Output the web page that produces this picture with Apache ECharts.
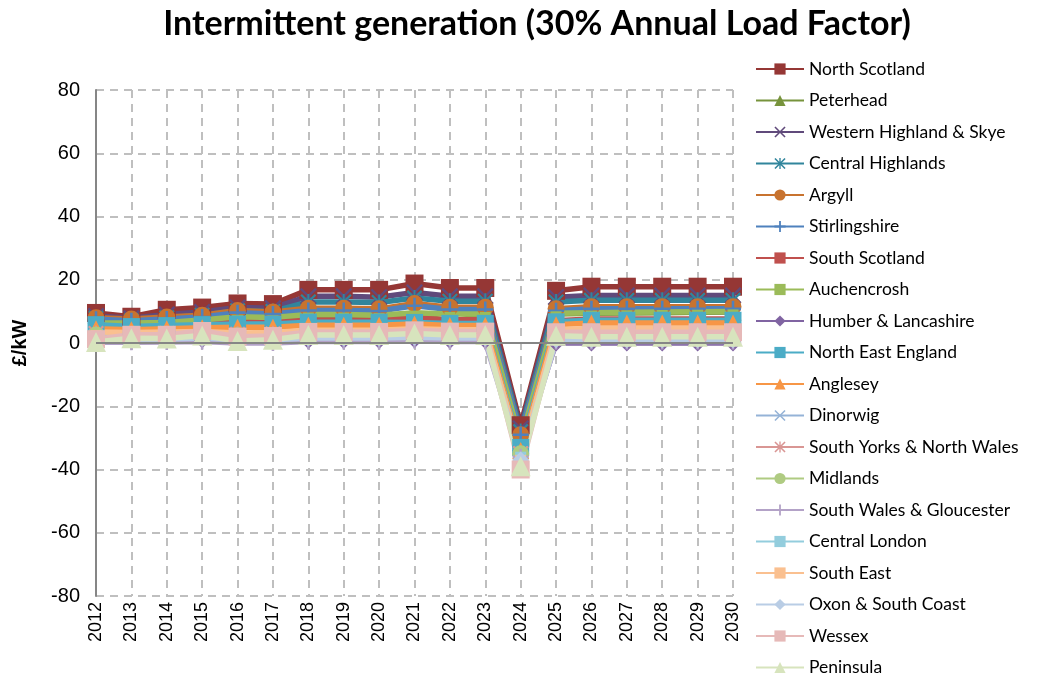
<!DOCTYPE html>
<html>
<head>
<meta charset="utf-8">
<script src="https://cdn.jsdelivr.net/npm/echarts@6/dist/echarts.min.js"></script>
<style>
  html, body { margin: 0; padding: 0; background: #ffffff; }
  #chart { width: 1042px; height: 680px; }
</style>
</head>
<body>
<div id="chart"></div>
<script>
// Charging years
const years = ['2012','2013','2014','2015','2016','2017','2018','2019','2020','2021',
               '2022','2023','2024','2025','2026','2027','2028','2029','2030'];

// Tariff by zone, £/kW
const northScotland      = [9.5, 8.3, 10.5, 11.2, 12.5, 12.3, 16.8, 16.8, 16.8, 18.8, 17.4, 17.4, -26, 16.5, 17.8, 17.8, 17.8, 17.8, 17.8];
const peterhead          = [6.0, 6.0, 6.2, 7.0, 7.8, 7.6, 8.5, 8.5, 8.3, 9.0, 6.8, 8.6, -30, 9.2, 9.4, 9.5, 9.6, 9.7, 9.8];
const westernHighland    = [8.5, 7.8, 9.0, 9.8, 11.2, 11.0, 14.8, 14.8, 14.5, 16.0, 14.8, 14.8, -27, 14.5, 15.0, 15.0, 15.0, 15.0, 15.0];
const centralHighlands   = [7.8, 7.0, 8.0, 8.8, 10.2, 10.0, 13.0, 13.0, 12.8, 14.2, 13.2, 13.2, -28, 13.0, 13.5, 13.5, 13.5, 13.5, 13.5];
const argyll             = [8.0, 7.6, 8.2, 8.8, 10.3, 9.8, 11.0, 11.0, 10.8, 12.5, 11.3, 11.3, -29, 10.8, 11.5, 11.5, 11.5, 11.5, 11.5];
const stirlingshire      = [7.5, 7.0, 7.6, 8.2, 9.6, 9.2, 10.3, 10.3, 10.1, 11.8, 10.6, 10.6, -29, 10.2, 10.8, 10.8, 10.8, 10.8, 10.8];
const southScotland      = [5.5, 5.3, 5.6, 6.0, 6.8, 6.6, 7.3, 7.3, 7.2, 7.9, 7.4, 7.4, -31, 7.0, 7.6, 7.6, 7.6, 7.6, 7.6];
const auchencrosh        = [6.3, 6.3, 6.5, 7.3, 8.3, 8.1, 9.0, 9.0, 8.8, 9.6, 9.2, 9.2, -31, 9.4, 9.6, 9.7, 9.8, 9.9, 10.0];
const humberLancashire   = [0.8, 0.8, 1.0, 1.0, 0.5, 0.6, 0.8, 0.8, 0.8, 1.0, 0.8, 0.8, -34, 0.0, 0.0, 0.0, 0.0, 0.0, 0.0];
const northEastEngland   = [5.8, 5.2, 5.5, 5.8, 6.0, 6.0, 6.6, 6.6, 6.6, 6.5, 6.2, 6.2, -33, 6.7, 7.2, 7.2, 7.2, 7.2, 7.2];
const anglesey           = [4.5, 4.2, 4.5, 4.8, 5.0, 5.0, 5.6, 5.6, 5.6, 6.0, 5.5, 5.5, -34, 5.8, 6.3, 6.3, 6.3, 6.3, 6.3];
const dinorwig           = [2.0, 2.0, 2.2, 2.5, 1.8, 1.8, 2.4, 2.4, 2.4, 2.7, 2.4, 2.4, -35, 2.0, 2.2, 2.2, 2.2, 2.2, 2.2];
const southYorksNWales   = [3.0, 2.8, 3.0, 3.3, 2.8, 2.9, 3.5, 3.5, 3.5, 3.8, 3.5, 3.5, -35, 3.5, 3.7, 3.7, 3.7, 3.7, 3.7];
const midlands           = [2.5, 2.5, 2.7, 3.0, 2.3, 2.4, 3.0, 3.0, 3.0, 3.4, 3.1, 3.1, -35, 3.0, 3.2, 3.2, 3.2, 3.2, 3.2];
const southWalesGlouc    = [0.2, 0.2, 0.3, 0.5, 0.0, 0.0, 0.5, 0.5, 0.5, 0.8, 0.5, 0.5, -36, 0.5, 0.5, 0.5, 0.5, 0.5, 0.5];
const centralLondon      = [3.0, 2.8, 3.0, 3.2, 2.5, 2.6, 3.2, 3.2, 3.2, 3.6, 3.3, 3.3, -35, 3.0, 3.0, 3.0, 3.0, 3.0, 3.0];
const southEast          = [3.5, 3.3, 3.5, 3.6, 3.2, 3.3, 4.0, 4.0, 4.0, 4.5, 4.2, 4.2, -36, 4.3, 4.6, 4.6, 4.6, 4.6, 4.6];
const oxonSouthCoast     = [1.0, 1.2, 1.3, 1.6, 1.0, 1.0, 1.6, 1.6, 1.6, 1.8, 1.6, 1.6, -37, 1.0, 1.0, 1.0, 1.0, 1.0, 1.0];
const wessex             = [1.2, 2.6, 2.6, 3.8, 2.0, 2.2, 3.5, 3.5, 3.5, 4.0, 3.6, 3.6, -40, 3.4, 3.4, 3.4, 3.4, 3.4, 3.4];
const peninsula          = [0.3, 1.5, 1.4, 2.4, 0.6, 1.0, 2.5, 2.5, 2.5, 3.0, 2.5, 2.5, -39, 2.3, 2.0, 2.0, 2.0, 2.0, 2.0];

const yTicks = { min: -80, max: 80, step: 20 };

// Marker shapes
const SYM_X = 'path://M0,1 L1,0 L5,4 L9,0 L10,1 L6,5 L10,9 L9,10 L5,6 L1,10 L0,9 L4,5 Z';
const SYM_STAR = 'path://M0,1 L1,0 L5,4 L9,0 L10,1 L6,5 L10,9 L9,10 L5,6 L1,10 L0,9 L4,5 Z M4.4,0 L5.6,0 L5.6,10 L4.4,10 Z';
const SYM_PLUS = 'path://M4.2,0 L5.8,0 L5.8,4.2 L10,4.2 L10,5.8 L5.8,5.8 L5.8,10 L4.2,10 L4.2,5.8 L0,5.8 L0,4.2 L4.2,4.2 Z';
const SYM_DASH = 'path://M0,0 L10,0 L10,4 L0,4 Z';

const zones = [
  { name: 'North Scotland',            data: northScotland,    color: '#953735', symbol: 'rect',     size: 18 },
  { name: 'Peterhead',                 data: peterhead,        color: '#77933C', symbol: 'triangle', size: 17 },
  { name: 'Western Highland & Skye',   data: westernHighland,  color: '#604A7B', symbol: SYM_X,      size: 17 },
  { name: 'Central Highlands',         data: centralHighlands, color: '#31859C', symbol: SYM_STAR,   size: 16 },
  { name: 'Argyll',                    data: argyll,           color: '#C8732F', symbol: 'circle',   size: 17 },
  { name: 'Stirlingshire',             data: stirlingshire,    color: '#4F81BD', symbol: SYM_PLUS,   size: 16 },
  { name: 'South Scotland',            data: southScotland,    color: '#C0504D', symbol: SYM_DASH,   size: [11, 4] },
  { name: 'Auchencrosh',               data: auchencrosh,      color: '#9BBB59', symbol: SYM_DASH,   size: [11, 4] },
  { name: 'Humber & Lancashire',       data: humberLancashire, color: '#8064A2', symbol: 'diamond',  size: 17 },
  { name: 'North East England',        data: northEastEngland, color: '#4BACC6', symbol: 'rect',     size: 17 },
  { name: 'Anglesey',                  data: anglesey,         color: '#F79646', symbol: 'triangle', size: 17 },
  { name: 'Dinorwig',                  data: dinorwig,         color: '#95B3D7', symbol: SYM_X,      size: 16 },
  { name: 'South Yorks & North Wales', data: southYorksNWales, color: '#D99694', symbol: SYM_STAR,   size: 16 },
  { name: 'Midlands',                  data: midlands,         color: '#AFCB82', symbol: 'circle',   size: 17 },
  { name: 'South Wales & Gloucester',  data: southWalesGlouc,  color: '#B3A2C7', symbol: SYM_PLUS,   size: 16 },
  { name: 'Central London',            data: centralLondon,    color: '#93CDDD', symbol: SYM_DASH,   size: [11, 4] },
  { name: 'South East',                data: southEast,        color: '#FAC090', symbol: SYM_DASH,   size: [11, 4] },
  { name: 'Oxon & South Coast',        data: oxonSouthCoast,   color: '#B9CDE5', symbol: 'diamond',  size: 17 },
  { name: 'Wessex',                    data: wessex,           color: '#E6B9B8', symbol: 'rect',     size: 18 },
  { name: 'Peninsula',                 data: peninsula,        color: '#D7E4BD', symbol: 'triangle', size: 20 }
];

const series = zones.map(function (z, i) {
  const s = {
    name: z.name,
    type: 'line',
    data: z.data,
    symbol: z.symbol,
    symbolSize: z.size,
    showAllSymbol: true,
    lineStyle: { color: z.color, width: 5.5 },
    itemStyle: { color: z.color, borderWidth: 0 },
    emphasis: { disabled: true },
    animation: false
  };
  if (i === 0) {
    // zero reference line across the plot
    s.markLine = {
      silent: true,
      symbol: 'none',
      label: { show: false },
      lineStyle: { color: '#868686', width: 2, type: 'solid' },
      data: [{ yAxis: 0 }],
      animation: false
    };
  }
  return s;
});

const chart = echarts.init(document.getElementById('chart'), null, { renderer: 'canvas' });
chart.setOption({
  backgroundColor: '#ffffff',
  animation: false,
  title: {
    text: 'Intermittent generation (30% Annual Load Factor)',
    left: 532,
    top: 2,
    textAlign: 'center',
    textStyle: { fontFamily: 'Lato', fontWeight: 'bold', fontSize: 34, color: '#000000' }
  },
  legend: {
    orient: 'vertical',
    left: 755,
    top: 60,
    height: 640,
    padding: 0,
    itemWidth: 48,
    itemHeight: 14,
    itemGap: 13.5,
    selectedMode: false,
    textStyle: { fontFamily: 'Lato', fontSize: 17.5, color: '#000000' },
    data: zones.map(function (z) { return z.name; })
  },
  grid: { left: 96, right: 309, top: 90, bottom: 84, containLabel: false },
  xAxis: {
    type: 'category',
    data: years,
    boundaryGap: false,
    axisLine: { show: false, onZero: false },
    axisTick: { show: false },
    axisLabel: {
      rotate: 90,
      margin: 6,
      fontFamily: 'Liberation Sans',
      fontSize: 18,
      color: '#000000',
      interval: 0
    },
    splitLine: { show: true, lineStyle: { color: '#BFBFBF', width: 2, type: [8, 6] } }
  },
  yAxis: {
    type: 'value',
    min: yTicks.min,
    max: yTicks.max,
    interval: yTicks.step,
    name: '£/kW',
    nameLocation: 'middle',
    nameGap: 66,
    nameRotate: 90,
    nameTextStyle: { fontFamily: 'Liberation Sans', fontWeight: 'bold', fontSize: 20, color: '#000000' },
    axisLine: { show: true, lineStyle: { color: '#868686', width: 2 } },
    axisTick: { show: false },
    axisLabel: { fontFamily: 'Liberation Sans', fontSize: 20, color: '#000000', margin: 16 },
    splitLine: { show: true, lineStyle: { color: '#BFBFBF', width: 2, type: [8, 6] } }
  },
  series: series
});
</script>
</body>
</html>
